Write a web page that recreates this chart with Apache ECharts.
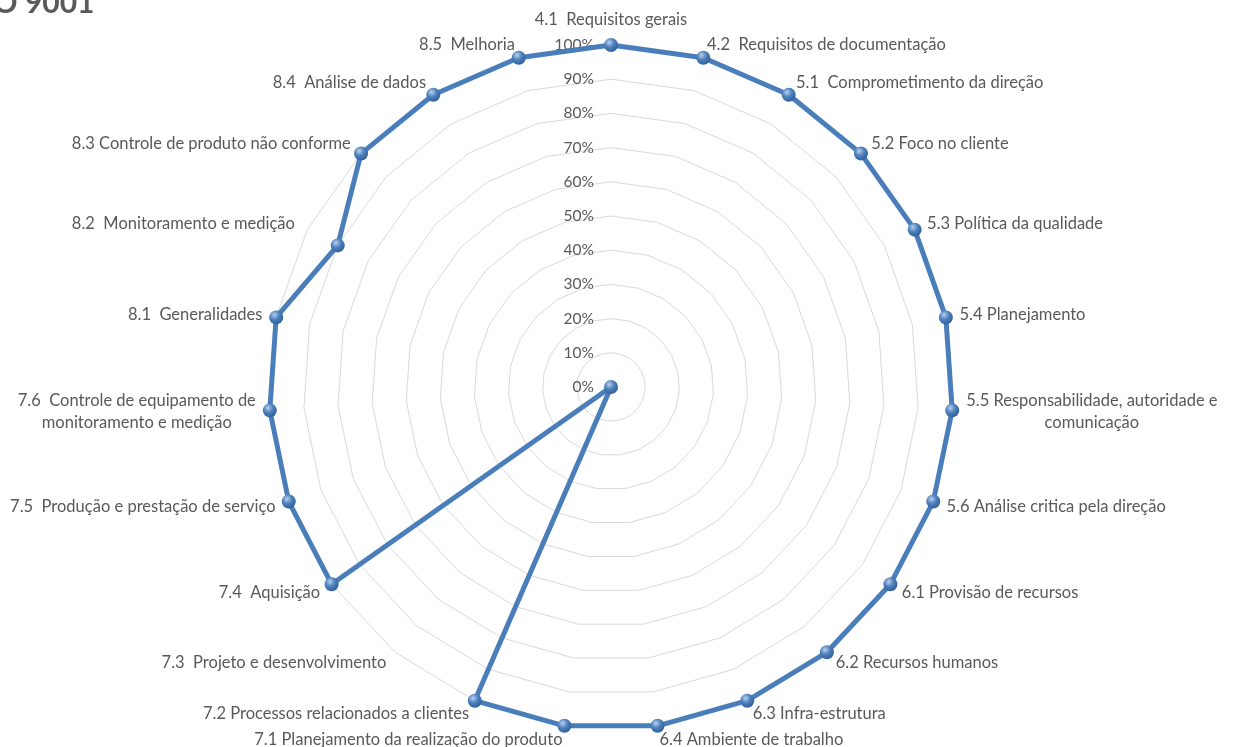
<!DOCTYPE html>
<html>
<head>
<meta charset="utf-8">
<script src="https://cdn.jsdelivr.net/npm/echarts@6/dist/echarts.min.js"></script>
<style>
  html, body { margin: 0; padding: 0; background: #ffffff; }
  #chart { width: 1242px; height: 747px; }
</style>
</head>
<body>
<div id="chart"></div>
<script>
// ISO 9001 requirement clauses, listed clockwise from the top
const clauses = [
  '4.1  Requisitos gerais',
  '4.2  Requisitos de documentação',
  '5.1  Comprometimento da direção',
  '5.2 Foco no cliente',
  '5.3 Política da qualidade',
  '5.4 Planejamento',
  '5.5 Responsabilidade, autoridade e\ncomunicação',
  '5.6 Análise critica pela direção',
  '6.1 Provisão de recursos',
  '6.2 Recursos humanos',
  '6.3 Infra-estrutura',
  '6.4 Ambiente de trabalho',
  '7.1 Planejamento da realização do produto',
  '7.2 Processos relacionados a clientes',
  '7.3  Projeto e desenvolvimento',
  '7.4  Aquisição',
  '7.5  Produção e prestação de serviço',
  '7.6  Controle de equipamento de\nmonitoramento e medição',
  '8.1  Generalidades',
  '8.2  Monitoramento e medição',
  '8.3 Controle de produto não conforme',
  '8.4  Análise de dados',
  '8.5  Melhoria'
];

// Compliance per clause, in percent
const compliance = [
  100, 100, 100, 100, 100, 100, 100, 100,
  100, 100, 100, 100,
  100, 100, 0, 100, 100, 100,
  100, 90, 100, 100, 100
];

// Scale ticks for the percentage axis
const percentTicks = [0, 10, 20, 30, 40, 50, 60, 70, 80, 90, 100];

const titleText = 'ISO 9001';

// ECharts lays radar indicators out counter-clockwise; reorder for a clockwise layout
const order = [0].concat(clauses.map((_, i) => i).slice(1).reverse());
const indicators = order.map(i => ({ name: clauses[i], max: 100, min: 0 }));
const values = order.map(i => compliance[i]);

const cx = 611, cy = 387, R = 342;
const labelFont = 'Lato, "Liberation Sans", sans-serif';
const textGray = '#595959';

const chart = echarts.init(document.getElementById('chart'), null, { renderer: 'canvas' });

chart.setOption({
  backgroundColor: '#ffffff',
  animation: false,
  title: {
    text: titleText,
    left: -37,
    top: -17,
    textStyle: { fontFamily: labelFont, fontSize: 30, fontWeight: 'bold', color: textGray }
  },
  radar: {
    center: [cx, cy],
    radius: R,
    startAngle: 90,
    shape: 'polygon',
    splitNumber: 10,
    indicator: indicators,
    axisName: {
      color: textGray,
      fontFamily: labelFont,
      fontSize: 16.5,
      formatter: function (name) {
        return name.split('\n').map(line => '{c|' + line + '}').join('\n');
      },
      rich: {
        c: { align: 'center', color: textGray, fontFamily: labelFont, fontSize: 16.5, lineHeight: 22 }
      }
    },
    nameGap: 14,
    axisLine: { show: false },
    axisTick: { show: false },
    axisLabel: { show: false },
    splitLine: { lineStyle: { color: '#d9d9d9', width: 1 } },
    splitArea: { show: false }
  },
  // Vertical percentage scale along the top spoke
  grid: { left: cx, top: cy - R, width: 1, height: R },
  xAxis: { type: 'value', show: false, min: 0, max: 1 },
  yAxis: {
    type: 'value',
    min: percentTicks[0],
    max: percentTicks[percentTicks.length - 1],
    interval: percentTicks[1] - percentTicks[0],
    axisLine: { show: false },
    axisTick: { show: false },
    splitLine: { show: false },
    axisLabel: {
      margin: 17,
      color: textGray,
      fontFamily: labelFont,
      fontSize: 15.5,
      formatter: '{value}%'
    }
  },
  series: [{
    type: 'radar',
    symbol: 'circle',
    symbolSize: 14,
    lineStyle: { color: '#4a7ebb', width: 5 },
    itemStyle: {
      color: {
        type: 'radial', x: 0.38, y: 0.32, r: 0.75,
        colorStops: [
          { offset: 0, color: '#b9d0ee' },
          { offset: 0.45, color: '#4f81bd' },
          { offset: 1, color: '#2a5a94' }
        ]
      },
      borderWidth: 0
    },
    data: [{ value: values, name: titleText }]
  }]
});
</script>
</body>
</html>
